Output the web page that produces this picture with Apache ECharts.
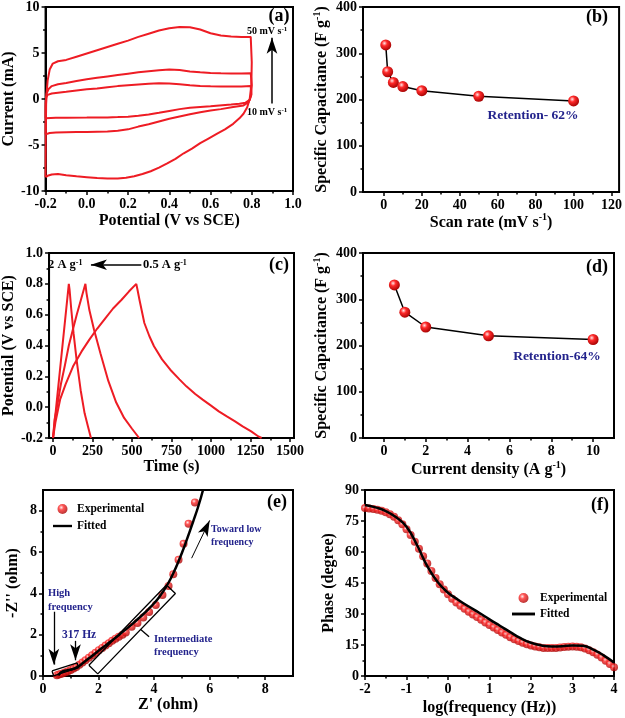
<!DOCTYPE html>
<html>
<head>
<meta charset="utf-8">
<script src="https://cdn.jsdelivr.net/npm/echarts@6/dist/echarts.min.js"></script>
<style>
  html, body { margin: 0; padding: 0; background: #fff; }
  #chart { width: 625px; height: 718px; }
</style>
</head>
<body>
<div id="chart"></div>
<script>
// (a) cyclic voltammetry loops, [potential V, current mA]
const cvScan10 = [[-0.2,-2.1],[-0.2,-0.5],[-0.197,0.2],[-0.19,0.45],[-0.17,0.6],[-0.14,0.68],[-0.1,0.78],[-0.05,0.92],[0,1.05],[0.05,1.15],[0.1,1.28],[0.15,1.4],[0.2,1.5],[0.25,1.58],[0.3,1.65],[0.35,1.7],[0.4,1.68],[0.45,1.6],[0.5,1.5],[0.55,1.42],[0.6,1.38],[0.65,1.36],[0.7,1.35],[0.75,1.36],[0.795,1.4],[0.8,1.2],[0.798,0.5],[0.79,-0.1],[0.77,-0.4],[0.74,-0.52],[0.7,-0.6],[0.6,-0.78],[0.5,-0.95],[0.45,-1.1],[0.4,-1.3],[0.35,-1.5],[0.3,-1.68],[0.25,-1.82],[0.2,-1.92],[0.15,-1.97],[0.1,-2.0],[0,-2.02],[-0.1,-2.03],[-0.15,-2.05],[-0.2,-2.1]];
const cvScan20 = [[-0.2,-3.85],[-0.199,-1],[-0.195,0.6],[-0.185,1.1],[-0.17,1.4],[-0.14,1.6],[-0.1,1.75],[-0.05,1.95],[0,2.15],[0.05,2.3],[0.1,2.45],[0.15,2.6],[0.2,2.75],[0.25,2.9],[0.3,3.02],[0.35,3.12],[0.4,3.2],[0.45,3.15],[0.5,3.0],[0.55,2.9],[0.6,2.83],[0.65,2.8],[0.7,2.78],[0.75,2.78],[0.795,2.8],[0.8,2.6],[0.8,1.5],[0.797,0.4],[0.785,-0.35],[0.76,-0.7],[0.71,-0.88],[0.65,-1.1],[0.6,-1.25],[0.55,-1.43],[0.5,-1.65],[0.45,-1.9],[0.4,-2.15],[0.35,-2.45],[0.3,-2.75],[0.25,-3.0],[0.2,-3.3],[0.15,-3.45],[0.1,-3.52],[0.05,-3.55],[0,-3.58],[-0.05,-3.6],[-0.1,-3.62],[-0.15,-3.65],[-0.18,-3.7],[-0.2,-3.85]];
const cvScan50 = [[-0.2,-8.5],[-0.199,-4],[-0.197,0],[-0.19,2.0],[-0.18,3.2],[-0.165,3.85],[-0.14,4.1],[-0.1,4.25],[-0.05,4.6],[0,4.95],[0.05,5.3],[0.1,5.65],[0.15,6.0],[0.2,6.35],[0.25,6.75],[0.3,7.1],[0.35,7.45],[0.4,7.7],[0.45,7.82],[0.5,7.8],[0.55,7.55],[0.6,7.15],[0.65,6.9],[0.7,6.8],[0.75,6.75],[0.795,6.75],[0.8,6.6],[0.8,4.0],[0.798,1.5],[0.79,0],[0.778,-0.9],[0.76,-1.6],[0.74,-2.1],[0.71,-2.7],[0.67,-3.3],[0.63,-3.8],[0.59,-4.3],[0.55,-4.8],[0.51,-5.4],[0.47,-5.9],[0.43,-6.5],[0.39,-7.0],[0.35,-7.45],[0.31,-7.85],[0.27,-8.15],[0.23,-8.4],[0.19,-8.55],[0.15,-8.63],[0.1,-8.65],[0.05,-8.6],[0,-8.5],[-0.05,-8.4],[-0.1,-8.28],[-0.14,-8.15],[-0.17,-8.2],[-0.19,-8.35],[-0.2,-8.5]];

// (b) capacitance vs scan rate
const scanRates = [1, 2, 5, 10, 20, 50, 100];
const capByScan = [318, 260, 237, 228, 219, 207, 197];

// (c) charge-discharge curves, [time s, potential V]
const gcd2A = [[0,-0.2],[20,0.0],[50,0.3],[75,0.55],[100,0.8],[105,0.76],[115,0.64],[130,0.48],[150,0.3],[175,0.11],[200,-0.04],[220,-0.12],[240,-0.2]];
const gcd1A = [[0,-0.2],[10,-0.08],[25,0.0],[50,0.15],[75,0.27],[100,0.4],[125,0.5],[150,0.6],[175,0.69],[205,0.8],[212,0.74],[230,0.63],[260,0.5],[300,0.35],[350,0.17],[400,0.03],[450,-0.07],[500,-0.14],[545,-0.2]];
const gcd05A = [[0,-0.2],[15,-0.1],[45,0.05],[80,0.15],[127,0.265],[180,0.36],[230,0.438],[280,0.51],[332,0.578],[380,0.64],[434,0.697],[480,0.75],[527,0.8],[535,0.76],[547,0.697],[578,0.546],[610,0.46],[639,0.395],[690,0.31],[742,0.243],[800,0.18],[844,0.135],[900,0.085],[947,0.049],[1000,0.01],[1049,-0.027],[1100,-0.06],[1152,-0.092],[1200,-0.125],[1254,-0.157],[1300,-0.19],[1320,-0.2]];

// (d) capacitance vs current density
const densities = [0.5, 1, 2, 5, 10];
const capByDensity = [331, 272, 240, 221, 213];

// (e) Nyquist plot, [Z', -Z'']
const eisExp = [[0.5,0.04],[0.57,0.07],[0.64,0.1],[0.72,0.13],[0.81,0.18],[0.9,0.23],[1.0,0.29],[1.1,0.36],[1.2,0.44],[1.31,0.54],[1.42,0.65],[1.53,0.76],[1.65,0.88],[1.77,1.0],[1.89,1.12],[2.01,1.25],[2.13,1.36],[2.25,1.47],[2.37,1.58],[2.49,1.7],[2.61,1.8],[2.73,1.9],[2.86,2.0],[2.98,2.1],[3.19,2.38],[3.4,2.57],[3.61,2.83],[3.82,3.1],[4.06,3.43],[4.3,3.92],[4.52,4.36],[4.69,4.92],[4.88,5.62],[5.06,6.4],[5.24,7.37],[5.47,8.4]];
const eisFit = [[0.55,0.02],[0.6,0.12],[0.68,0.2],[0.8,0.26],[0.95,0.3],[1.1,0.35],[1.25,0.44],[1.45,0.64],[1.7,0.9],[2.0,1.22],[2.3,1.53],[2.6,1.84],[2.9,2.17],[3.2,2.5],[3.5,2.86],[3.8,3.24],[4.0,3.52],[4.2,3.85],[4.4,4.25],[4.6,4.72],[4.8,5.3],[5.0,5.95],[5.2,6.68],[5.4,7.45],[5.6,8.25],[5.76,9.0]];
const boxHigh = [[0.325,0.243],[1.229,0.632],[1.284,0.4],[0.381,0.011],[0.325,0.243]];
const boxMid = [[1.651,0.518],[4.446,4.405],[4.766,3.989],[1.971,0.102],[1.651,0.518]];
const boxMidTick = [[3.518,2.251],[3.819,1.895]];

// (f) Bode phase, [log f, phase deg]
const phaseExp = [[-2.0,81.3],[-1.9,81.1],[-1.8,80.8],[-1.7,80.4],[-1.6,79.9],[-1.5,79.2],[-1.4,78.3],[-1.3,77.0],[-1.2,75.4],[-1.1,73.4],[-1.0,71.0],[-0.9,68.2],[-0.8,65.0],[-0.7,61.6],[-0.6,58.0],[-0.5,54.4],[-0.4,50.8],[-0.3,47.4],[-0.2,44.4],[-0.1,41.8],[0.0,39.5],[0.1,37.4],[0.2,35.6],[0.3,34.0],[0.4,32.5],[0.5,31.1],[0.6,29.8],[0.7,28.5],[0.8,27.2],[0.9,25.9],[1.0,24.7],[1.1,23.5],[1.2,22.3],[1.3,21.1],[1.4,19.9],[1.5,18.8],[1.6,17.8],[1.7,16.9],[1.8,16.1],[1.9,15.4],[2.0,14.8],[2.1,14.3],[2.2,13.9],[2.3,13.6],[2.4,13.5],[2.5,13.5],[2.6,13.6],[2.7,13.8],[2.8,14.0],[2.9,14.2],[3.0,14.3],[3.1,14.2],[3.2,13.9],[3.3,13.3],[3.4,12.5],[3.5,11.5],[3.6,10.3],[3.7,8.9],[3.8,7.4],[3.9,5.8],[4.0,4.2]];
const phaseFit = [[-2,82.7],[-1.75,81.6],[-1.5,79.8],[-1.25,76.8],[-1,72.2],[-0.75,63.5],[-0.5,53.2],[-0.25,45.5],[0,40.3],[0.25,36.8],[0.5,33.6],[0.75,30.6],[1,27.4],[1.25,24.3],[1.5,21.2],[1.75,18.3],[2,16.1],[2.25,14.8],[2.5,14.3],[2.75,14.4],[3,14.8],[3.25,14.6],[3.5,12.8],[3.75,10.0],[4,6.5]];

// tick values
const aXTicks = [-0.2, 0, 0.2, 0.4, 0.6, 0.8, 1.0];
const aXMinor = [-0.1, 0.1, 0.3, 0.5, 0.7, 0.9];
const aYTicks = [-10, -5, 0, 5, 10];
const aYMinor = [-7.5, -2.5, 2.5, 7.5];
const bXTicks = [0, 20, 40, 60, 80, 100, 120];
const bXMinor = [10, 30, 50, 70, 90, 110];
const capTicks = [0, 100, 200, 300, 400];
const capMinor = [50, 150, 250, 350];
const cXTicks = [0, 250, 500, 750, 1000, 1250, 1500];
const cXMinor = [125, 375, 625, 875, 1125, 1375];
const cYTicks = [-0.2, 0, 0.2, 0.4, 0.6, 0.8, 1.0];
const cYMinor = [-0.1, 0.1, 0.3, 0.5, 0.7, 0.9];
const dXTicks = [0, 2, 4, 6, 8, 10];
const dXMinor = [1, 3, 5, 7, 9];
const eTicks = [0, 2, 4, 6, 8];
const eMinor = [1, 3, 5, 7];
const fXTicks = [-2, -1, 0, 1, 2, 3, 4];
const fXMinor = [-1.5, -0.5, 0.5, 1.5, 2.5, 3.5];
const fYTicks = [0, 15, 30, 45, 60, 75, 90];
const fYMinor = [7.5, 22.5, 37.5, 52.5, 67.5, 82.5];

const FONT = '"Liberation Serif", "Times New Roman", serif';
const RED = '#ee1c24';
const NAVY = '#23238c';
const ball = {
  type: 'radial', x: 0.38, y: 0.35, r: 0.7,
  colorStops: [
    { offset: 0, color: '#ffe6e6' },
    { offset: 0.35, color: '#ff2a2a' },
    { offset: 1, color: '#a00000' }
  ]
};

const supRich = {
  n: { fontSize: 16, fontWeight: 'bold', fontFamily: FONT, color: '#000', lineHeight: 20 },
  s: { fontSize: 10, fontWeight: 'bold', fontFamily: FONT, color: '#000', lineHeight: 10, verticalAlign: 'top' }
};

const grids = [
  { left: 45, top: 6, width: 248, height: 185 },
  { left: 363, top: 7, width: 258, height: 185 },
  { left: 42, top: 253, width: 252, height: 185 },
  { left: 363, top: 253, width: 251, height: 185 },
  { left: 43, top: 490, width: 250, height: 186 },
  { left: 365, top: 490, width: 249, height: 186 }
].map(g => Object.assign({ show: true, borderColor: '#000', borderWidth: 2, backgroundColor: 'transparent' }, g));

const xAxes = [];
const yAxes = [];
const one = v => v.toFixed(1);
const plain = v => String(v);

// main axis with labels + a second bare axis only for minor ticks
function addAxis(list, pos, gridIndex, min, max, majors, minors, fmt, name, gap) {
  const base = { type: 'value', gridIndex, min, max, position: pos, splitLine: { show: false } };
  list.push(Object.assign({}, base, {
    axisLine: { show: true, onZero: false, lineStyle: { color: '#000', width: 2 } },
    axisTick: { show: true, inside: false, length: 4, customValues: majors, lineStyle: { color: '#000', width: 1.5 } },
    axisLabel: { show: true, margin: 6, customValues: majors, formatter: fmt, color: '#000', fontFamily: FONT, fontWeight: 'bold', fontSize: 14 },
    name: name, nameLocation: 'middle', nameGap: gap,
    nameTextStyle: { color: '#000', fontFamily: FONT, fontWeight: 'bold', fontSize: 16, rich: supRich }
  }));
  const idx = list.length - 1;
  list.push(Object.assign({}, base, {
    axisLine: { show: false, onZero: false },
    axisTick: { show: true, inside: false, length: 2.5, customValues: minors, lineStyle: { color: '#000', width: 1.5 } },
    axisLabel: { show: false }
  }));
  return idx;
}

const ax = [], ay = [];
ax[0] = addAxis(xAxes, 'bottom', 0, -0.2, 1.0, aXTicks, aXMinor, one, 'Potential (V vs SCE)', 22);
ay[0] = addAxis(yAxes, 'left', 0, -10, 10, aYTicks, aYMinor, plain, 'Current (mA)', 26);
ax[1] = addAxis(xAxes, 'bottom', 1, -11, 124, bXTicks, bXMinor, plain, '{n|Scan rate (mV s}{s|-1}{n|)}', 20);
ay[1] = addAxis(yAxes, 'left', 1, 0, 400, capTicks, capMinor, plain, '{n|Specific Capacitance (F g}{s|-1}{n|)}', 31);
ax[2] = addAxis(xAxes, 'bottom', 2, -25, 1525, cXTicks, cXMinor, plain, 'Time (s)', 16);
ay[2] = addAxis(yAxes, 'left', 2, -0.2, 1.0, cYTicks, cYMinor, one, 'Potential (V vs SCE)', 26);
ax[3] = addAxis(xAxes, 'bottom', 3, -1, 11, dXTicks, dXMinor, plain, '{n|Current density (A g}{s|-1}{n|)}', 22);
ay[3] = addAxis(yAxes, 'left', 3, 0, 400, capTicks, capMinor, plain, '{n|Specific Capacitance (F g}{s|-1}{n|)}', 31);
ax[4] = addAxis(xAxes, 'bottom', 4, 0, 9, eTicks, eMinor, plain, "Z' (ohm)", 19);
ay[4] = addAxis(yAxes, 'left', 4, 0, 9, eTicks, eMinor, plain, "-Z'' (ohm)", 22);
ax[5] = addAxis(xAxes, 'bottom', 5, -2, 4, fXTicks, fXMinor, plain, 'log(frequency (Hz))', 24);
ay[5] = addAxis(yAxes, 'left', 5, 0, 90, fYTicks, fYMinor, plain, 'Phase (degree)', 28);

function on(p) { return { xAxisIndex: ax[p], yAxisIndex: ay[p] }; }
function redLine(p, data) {
  return Object.assign({ type: 'line', data, symbol: 'none', silent: true, lineStyle: { color: RED, width: 2 } }, on(p));
}
function arrow(from, to, width, size) {
  return [{ coord: from, lineStyle: { color: '#000', width: width, type: 'solid' }, symbolSize: [0, size] }, { coord: to }];
}
function markArrows(items) {
  return { silent: true, symbol: ['none', 'arrow'], label: { show: false }, emphasis: { disabled: true }, data: items };
}
function ballLine(p, xs, ys) {
  return Object.assign({
    type: 'line', data: xs.map((x, i) => [x, ys[i]]), symbol: 'circle', symbolSize: 11, showSymbol: true,
    lineStyle: { color: '#000', width: 1.5 }, itemStyle: { color: ball, borderWidth: 0 }, silent: true
  }, on(p));
}
function blackLine(p, data, width) {
  return Object.assign({ type: 'line', data, symbol: 'none', silent: true, itemStyle: { color: '#000' }, lineStyle: { color: '#000', width: width } }, on(p));
}

const series = [];
// (a)
const cv10 = redLine(0, cvScan10);
cv10.markLine = markArrows([arrow([0.898, -0.5], [0.898, 6.65], 1.5, 9)]);
series.push(cv10, redLine(0, cvScan20), redLine(0, cvScan50));
// (b)
series.push(ballLine(1, scanRates, capByScan));
// (c)
const g2 = redLine(2, gcd2A);
g2.markLine = markArrows([arrow([559, 0.924], [240, 0.924], 1.5, 9)]);
series.push(g2, redLine(2, gcd1A), redLine(2, gcd05A));
// (d)
series.push(ballLine(3, densities, capByDensity));
// (e)
series.push(Object.assign({ type: 'scatter', name: 'Experimental', data: eisExp, symbolSize: 8, itemStyle: { color: ball }, silent: true }, on(4)));
series.push(Object.assign({ name: 'Fitted', smooth: true }, blackLine(4, eisFit, 2.5)));
const bh = blackLine(4, boxHigh, 1.3);
bh.markLine = markArrows([
  arrow([5.35, 5.7], [6.0, 7.53], 1, 7),
  arrow([0.39, 3.11], [0.39, 0.55], 1.3, 8),
  arrow([1.17, 1.7], [1.17, 0.76], 1.3, 8)
]);
series.push(bh, blackLine(4, boxMid, 1.3), blackLine(4, boxMidTick, 1.3));
// (f)
series.push(Object.assign({ type: 'scatter', name: 'Experimental', data: phaseExp, symbolSize: 8, itemStyle: { color: ball }, silent: true }, on(5)));
series.push(Object.assign({ name: 'Fitted', smooth: true }, blackLine(5, phaseFit, 2.5)));

function txt(x, y, text, size, color, align, rich) {
  const style = { text, x: 0, y: 0, fill: color || '#000', fontSize: size, fontWeight: 'bold', fontFamily: FONT, align: align || 'center', verticalAlign: 'middle' };
  if (rich) {
    style.rich = { s: { fontSize: Math.round(size * 0.65), fontWeight: 'bold', fontFamily: FONT, fill: color || '#000', lineHeight: Math.round(size * 0.65), verticalAlign: 'top' } };
  }
  return { type: 'text', x, y, silent: true, style };
}

const graphic = [
  txt(279, 16, '(a)', 18),
  txt(247, 31, '50 mV s{s|-1}', 10, '#000', 'left', true),
  txt(247, 112, '10 mV s{s|-1}', 10, '#000', 'left', true),
  txt(597, 17, '(b)', 18),
  txt(533, 116, 'Retention- 62%', 13.5, NAVY),
  txt(279, 265, '(c)', 18),
  txt(48, 265, '2 A g{s|-1}', 12.5, '#000', 'left', true),
  txt(143, 265, '0.5 A g{s|-1}', 12.5, '#000', 'left', true),
  txt(597, 267, '(d)', 18),
  txt(557, 357, 'Retention-64%', 13.5, NAVY),
  txt(277, 502, '(e)', 18),
  txt(211, 529, 'Toward low', 10, NAVY, 'left'),
  txt(211, 542, 'frequency', 10, NAVY, 'left'),
  txt(48, 593, 'High', 10.5, NAVY, 'left'),
  txt(48, 607, 'frequency', 10.5, NAVY, 'left'),
  txt(62, 635, '317 Hz', 11.5, NAVY, 'left'),
  txt(154, 639, 'Intermediate', 10.5, NAVY, 'left'),
  txt(154, 652, 'frequency', 10.5, NAVY, 'left'),
  txt(600, 505, '(f)', 18)
];

const legendText = { color: '#000', fontFamily: FONT, fontWeight: 'bold', fontSize: 11.5 };
const legendItems = [
  { name: 'Experimental', icon: 'circle' },
  { name: 'Fitted', icon: 'path://M0,0h24v3h-24z', itemStyle: { color: '#000' } }
];

const chart = echarts.init(document.getElementById('chart'));
chart.setOption({
  animation: false,
  backgroundColor: '#fff',
  textStyle: { fontFamily: FONT },
  grid: grids,
  xAxis: xAxes,
  yAxis: yAxes,
  legend: [
    { data: legendItems, orient: 'vertical', left: 53, top: 503, padding: 0, itemWidth: 19, itemHeight: 10, itemGap: 5, textStyle: legendText, selectedMode: false },
    { data: legendItems, orient: 'vertical', left: 512, top: 592, padding: 0, itemWidth: 23, itemHeight: 10, itemGap: 4, textStyle: legendText, selectedMode: false }
  ],
  graphic: graphic,
  series: series
});
</script>
</body>
</html>
